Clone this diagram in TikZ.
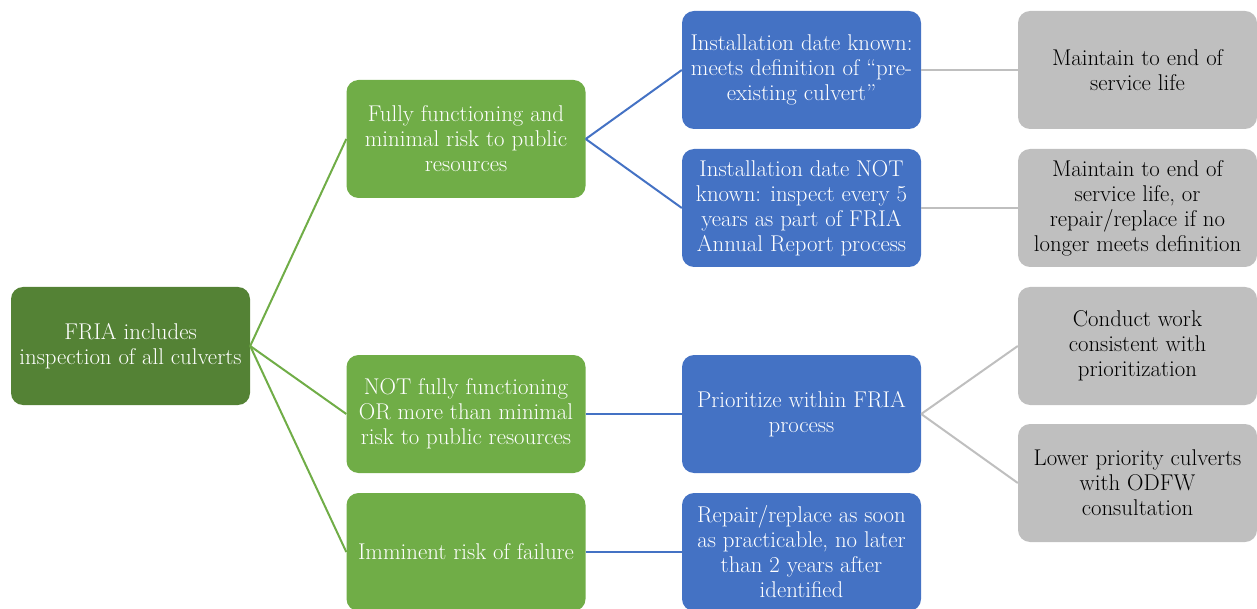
\documentclass[tikz,border=0pt]{standalone}
\usepackage{xcolor}
\definecolor{rootgreen}{HTML}{548235}
\definecolor{boxgreen}{HTML}{70AD47}
\definecolor{boxblue}{HTML}{4472C4}
\definecolor{boxgray}{HTML}{BFBFBF}
\tikzset{
  basebox/.style={rounded corners=12pt, minimum width=239pt, minimum height=118pt,
    inner sep=1pt, align=center, font=\fontsize{22.8}{25}\selectfont, anchor=center},
  rootbox/.style={basebox, fill=rootgreen, text=white},
  greenbox/.style={basebox, fill=boxgreen, text=white},
  bluebox/.style={basebox, fill=boxblue, text=white},
  graybox/.style={basebox, fill=boxgray, text=black},
  gline/.style={draw=boxgreen, line width=2pt},
  bline/.style={draw=boxblue, line width=2pt},
  kline/.style={draw=boxgray, line width=2pt},
}
\begin{document}
\begin{tikzpicture}[x=1pt,y=-1pt]
\useasboundingbox (0,0) rectangle (1257,609);
\clip (0,0) rectangle (1257,609);
% nodes
\node[rootbox]  (root) at (130.5,346) {FRIA includes\\inspection of all culverts};
\node[greenbox] (g1) at (466,139) {Fully functioning and\\minimal risk to public\\resources};
\node[greenbox] (g2) at (466,414) {NOT fully functioning\\OR more than minimal\\risk to public resources};
\node[greenbox] (g3) at (466,552) {Imminent risk of failure};
\node[bluebox]  (b1) at (801.5,70) {Installation date known:\\meets definition of ``pre-\\existing culvert''};
\node[bluebox]  (b2) at (801.5,208) {Installation date NOT\\known: inspect every 5\\years as part of FRIA\\Annual Report process};
\node[bluebox]  (b3) at (801.5,414) {Prioritize within FRIA\\process};
\node[bluebox]  (b4) at (801.5,552) {Repair/replace as soon\\as practicable, no later\\than 2 years after\\identified};
\node[graybox]  (k1) at (1137.5,70) {Maintain to end of\\service life};
\node[graybox]  (k2) at (1137.5,208) {Maintain to end of\\service life, or\\repair/replace if no\\longer meets definition};
\node[graybox]  (k3) at (1137.5,346) {Conduct work\\consistent with\\prioritization};
\node[graybox]  (k4) at (1137.5,483) {Lower priority culverts\\with ODFW\\consultation};
% connectors
\draw[gline] (root.east) -- (g1.west);
\draw[gline] (root.east) -- (g2.west);
\draw[gline] (root.east) -- (g3.west);
\draw[bline] (g1.east) -- (b1.west);
\draw[bline] (g1.east) -- (b2.west);
\draw[bline] (g2.east) -- (b3.west);
\draw[bline] (g3.east) -- (b4.west);
\draw[kline] (b1.east) -- (k1.west);
\draw[kline] (b2.east) -- (k2.west);
\draw[kline] (b3.east) -- (k3.west);
\draw[kline] (b3.east) -- (k4.west);
\end{tikzpicture}
\end{document}
